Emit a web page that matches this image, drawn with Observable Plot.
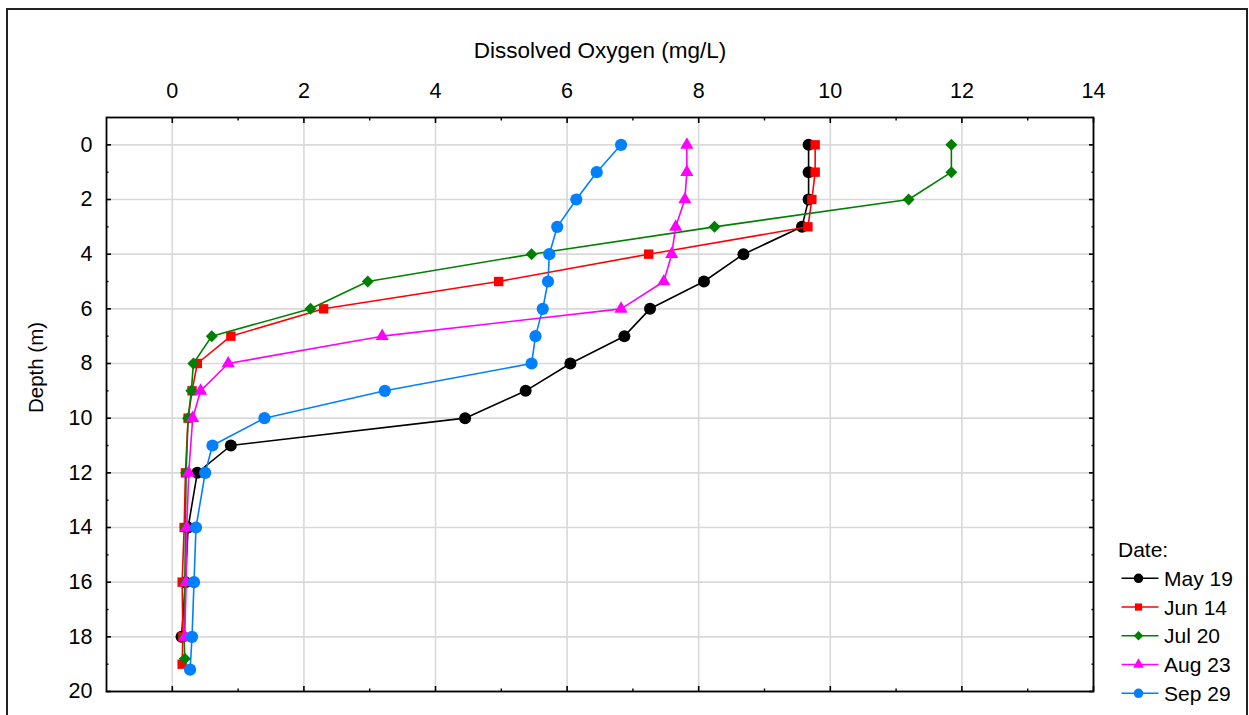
<!DOCTYPE html>
<html>
<head>
<meta charset="utf-8">
<script src="https://cdn.jsdelivr.net/npm/d3@7"></script>
<script src="https://cdn.jsdelivr.net/npm/@observablehq/plot@0.6"></script>
<style>
  body { margin: 0; background: #fff; font-family: "Liberation Sans", Arial, sans-serif; }
  #wrap { position: relative; width: 1249px; height: 715px; overflow: hidden; background: #fff; }
  #border { position: absolute; left: 6px; top: 8px; width: 1242px; height: 730px; border: 2px solid #222; box-sizing: border-box; pointer-events: none; }
  #chart { position: absolute; left: 0; top: 0; }
  #legend { position: absolute; left: 1100px; top: 530px; }
</style>
</head>
<body>
<div id="wrap">
  <div id="chart"></div>
  <div id="legend"></div>
  <div id="border"></div>
</div>
<script>
// ---- data ----
const seriesNames = ["May 19", "Jun 14", "Jul 20", "Aug 23", "Sep 29"];
const seriesColors = ["#000000", "#ff0000", "#008000", "#ff00ff", "#0080ff"];
const seriesSymbols = ["circle", "square", "diamond2", "triangle", "circle"];

const depthMay = [0, 1, 2, 3, 4, 5, 6, 7, 8, 9, 10, 11, 12, 14, 16, 18];
const doMay    = [9.67, 9.67, 9.67, 9.57, 8.68, 8.08, 7.26, 6.87, 6.05, 5.37, 4.45, 0.89, 0.38, 0.24, 0.20, 0.14];

const depthJun = [0, 1, 2, 3, 4, 5, 6, 7, 8, 9, 10, 12, 14, 16, 18, 19];
const doJun    = [9.77, 9.77, 9.72, 9.66, 7.24, 4.96, 2.30, 0.89, 0.38, 0.30, 0.24, 0.20, 0.18, 0.15, 0.16, 0.15];

const depthJul = [0, 1, 2, 3, 4, 5, 6, 7, 8, 9, 10, 12, 14, 16, 18, 18.8];
const doJul    = [11.84, 11.84, 11.19, 8.24, 5.46, 2.97, 2.10, 0.60, 0.32, 0.29, 0.24, 0.21, 0.20, 0.19, 0.18, 0.19];

const depthAug = [0, 1, 2, 3, 4, 5, 6, 7, 8, 9, 10, 12, 14, 16, 18];
const doAug    = [7.82, 7.82, 7.79, 7.65, 7.59, 7.47, 6.82, 3.19, 0.85, 0.43, 0.31, 0.25, 0.22, 0.21, 0.19];

const depthSep = [0, 1, 2, 3, 4, 5, 6, 7, 8, 9, 10, 11, 12, 14, 16, 18, 19.2];
const doSep    = [6.82, 6.45, 6.14, 5.85, 5.73, 5.71, 5.63, 5.52, 5.46, 3.23, 1.40, 0.61, 0.50, 0.36, 0.33, 0.30, 0.27];

const xMajor = [0, 2, 4, 6, 8, 10, 12, 14];
const xMinor = [1, 3, 5, 7, 9, 11, 13];
const yMajor = [0, 2, 4, 6, 8, 10, 12, 14, 16, 18, 20];
const yMinor = [1, 3, 5, 7, 9, 11, 13, 15, 17, 19];

const titleText = "Dissolved Oxygen (mg/L)";
const yLabelText = "Depth (m)";
const legendTitle = "Date:";

// ---- build ----
const depths = [depthMay, depthJun, depthJul, depthAug, depthSep];
const values = [doMay, doJun, doJul, doAug, doSep];
const dotR = [6, 5.3, 5.4, 4.9, 6.1];

const rows = seriesNames.flatMap((name, i) =>
  depths[i].map((d, j) => ({series: name, depth: d, value: values[i][j]})));

const marks = [
  Plot.gridX(xMajor, {stroke: "#d9d9d9", strokeOpacity: 1, strokeWidth: 1.6}),
  Plot.gridY(yMajor, {stroke: "#d9d9d9", strokeOpacity: 1, strokeWidth: 1.6})
];

seriesNames.forEach((name, i) => {
  const data = rows.filter(r => r.series === name);
  marks.push(Plot.line(data, {x: "value", y: "depth", stroke: seriesColors[i], strokeWidth: 1.6}));
  marks.push(Plot.dot(data, {x: "value", y: "depth", symbol: seriesSymbols[i], fill: seriesColors[i], stroke: "none", r: dotR[i]}));
});

const noText = () => "";
marks.push(
  Plot.frame({stroke: "#000", strokeWidth: 1.8}),
  // labels
  Plot.axisX(xMajor, {anchor: "top", tickSize: 0, tickPadding: 20, fontSize: 21.5, label: null}),
  Plot.axisY(yMajor, {anchor: "left", tickSize: 0, tickPadding: 14, fontSize: 21.5, label: null}),
  // inward ticks on all four sides
  Plot.axisX(xMajor, {anchor: "top", tickSize: -5, tickFormat: noText, label: null, strokeWidth: 1.6}),
  Plot.axisX(xMinor, {anchor: "top", tickSize: -2.5, tickFormat: noText, label: null, strokeWidth: 1.4}),
  Plot.axisX(xMajor, {anchor: "bottom", tickSize: -5, tickFormat: noText, label: null, strokeWidth: 1.6}),
  Plot.axisX(xMinor, {anchor: "bottom", tickSize: -2.5, tickFormat: noText, label: null, strokeWidth: 1.4}),
  Plot.axisY(yMajor, {anchor: "left", tickSize: -5, tickFormat: noText, label: null, strokeWidth: 1.6}),
  Plot.axisY(yMinor, {anchor: "left", tickSize: -2.5, tickFormat: noText, label: null, strokeWidth: 1.4}),
  Plot.axisY(yMajor, {anchor: "right", tickSize: -5, tickFormat: noText, label: null, strokeWidth: 1.6}),
  Plot.axisY(yMinor, {anchor: "right", tickSize: -2.5, tickFormat: noText, label: null, strokeWidth: 1.4}),
  // titles
  Plot.text([titleText], {text: d => d, frameAnchor: "top", textAnchor: "middle", dy: -67, fontSize: 22.5, lineAnchor: "middle"}),
  Plot.text([yLabelText], {text: d => d, frameAnchor: "left", textAnchor: "middle", dx: -70, dy: -37, rotate: -90, fontSize: 20.5, lineAnchor: "middle"})
);

const chart = Plot.plot({
  width: 1249,
  height: 715,
  marginLeft: 106,
  marginRight: 156,
  marginTop: 117,
  marginBottom: 24,
  style: {fontFamily: "Liberation Sans, Arial, sans-serif", fontSize: "20px", color: "#000", background: "transparent"},
  x: {type: "linear", domain: [-1, 14]},
  y: {type: "linear", domain: [-1, 20], reverse: true},
  marks
});
document.getElementById("chart").appendChild(chart);

// ---- legend ----
const symMap = {circle: d3.symbolCircle, square: d3.symbolSquare, diamond2: d3.symbolDiamond2, triangle: d3.symbolTriangle};
const legendSize = [72, 52, 58, 50, 72];
const lg = d3.select("#legend").append("svg")
  .attr("width", 149).attr("height", 185)
  .style("font-family", "Liberation Sans, Arial, sans-serif");
lg.append("text").attr("x", 18).attr("y", 26.5).attr("font-size", 21).attr("fill", "#000").text(legendTitle);
seriesNames.forEach((name, i) => {
  const cy = 48.3 + i * 28.75;
  const g = lg.append("g");
  g.append("line").attr("x1", 21.5).attr("x2", 58.5).attr("y1", cy).attr("y2", cy)
    .attr("stroke", seriesColors[i]).attr("stroke-width", 1.6);
  g.append("path").attr("transform", `translate(38.5,${cy})`)
    .attr("d", d3.symbol().type(symMap[seriesSymbols[i]]).size(legendSize[i])())
    .attr("fill", seriesColors[i]);
  g.append("text").attr("x", 64).attr("y", cy + 7.5).attr("font-size", 21).attr("fill", "#000").text(name);
});
</script>
</body>
</html>
